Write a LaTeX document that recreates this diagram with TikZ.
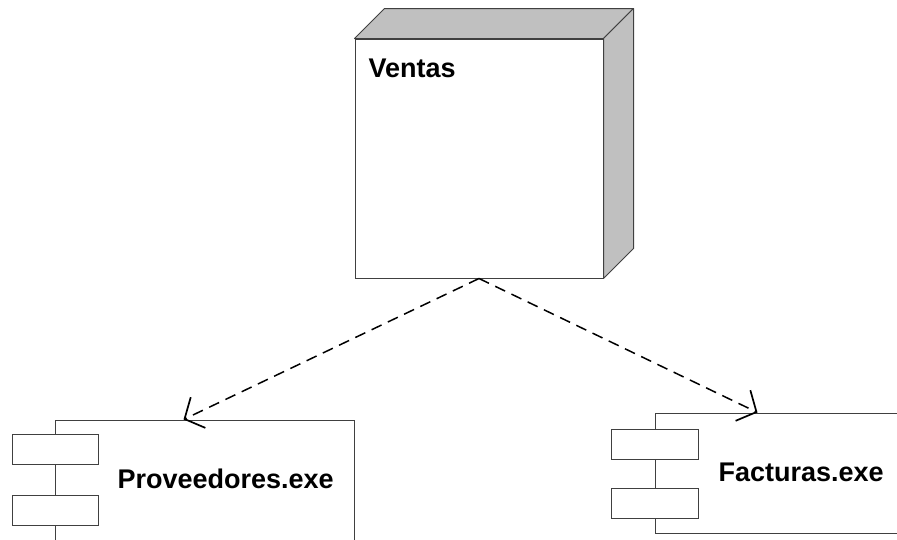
\documentclass[tikz,border=0pt]{standalone}
\usepackage{fontspec}
\setmainfont{Liberation Sans}
\usetikzlibrary{arrows.meta,positioning}
\definecolor{framegray}{RGB}{64,64,64}
\definecolor{sidegray}{RGB}{192,192,192}
\tikzstyle{device}=[rectangle,draw=framegray,fill=white,minimum width=248pt,minimum height=239pt,inner sep=0pt]
\tikzstyle{face}=[draw=framegray,fill=sidegray,line join=round]
\tikzstyle{component}=[rectangle,draw=framegray,fill=white,inner sep=0pt]
\tikzstyle{port}=[rectangle,draw=framegray,fill=white,minimum width=86pt,minimum height=30pt,inner sep=0pt]
\tikzstyle{title}=[inner sep=0pt,anchor=base west,font=\fontsize{27}{32}\selectfont\bfseries]
\tikzstyle{dep}=[draw=black,line width=1.5pt,dash pattern=on 11pt off 7pt,-{Straight Barb[length=15pt,width=34pt,line width=1.7pt]}]
\begin{document}
\begin{tikzpicture}[x=1pt,y=-1pt,line width=1pt]
            \clip (0,0) rectangle (897,539);

            % NODE PART

            \node[device] (ventas) at (479,158.5) {};
            \path[face] (ventas.north west) -- ++(30,-30) -- ([shift={(30,-30)}]ventas.north east) -- (ventas.north east) -- cycle;
            \path[face] (ventas.north east) -- ++(30,-30) -- ([shift={(30,-30)}]ventas.south east) -- (ventas.south east) -- cycle;
            \node[title] (tventas) at (368,77) {Ventas};

            % COMPONENT PART

            \node[component,minimum width=299pt,minimum height=150pt] (prov) at (204.5,495) {};
            \node[port] (prov1) at (55,449) {};
            \node[port] (prov2) at (55,510) {};
            \node[title] (tprov) at (117,488) {Proveedores.exe};

            \node[component,minimum width=305pt,minimum height=120pt] (fact) at (807.5,473) {};
            \node[port,minimum width=87pt] (fact1) at (654.5,444) {};
            \node[port,minimum width=87pt] (fact2) at (654.5,503.5) {};
            \node[title] (tfact) at (718,481) {Facturas.exe};

            % DEPENDENCIES

            \path (ventas.south) edge[dep] ([xshift=129pt]prov.north west);
            \path (ventas.south) edge[dep] ([xshift=103pt]fact.north west);

\end{tikzpicture}
\end{document}
